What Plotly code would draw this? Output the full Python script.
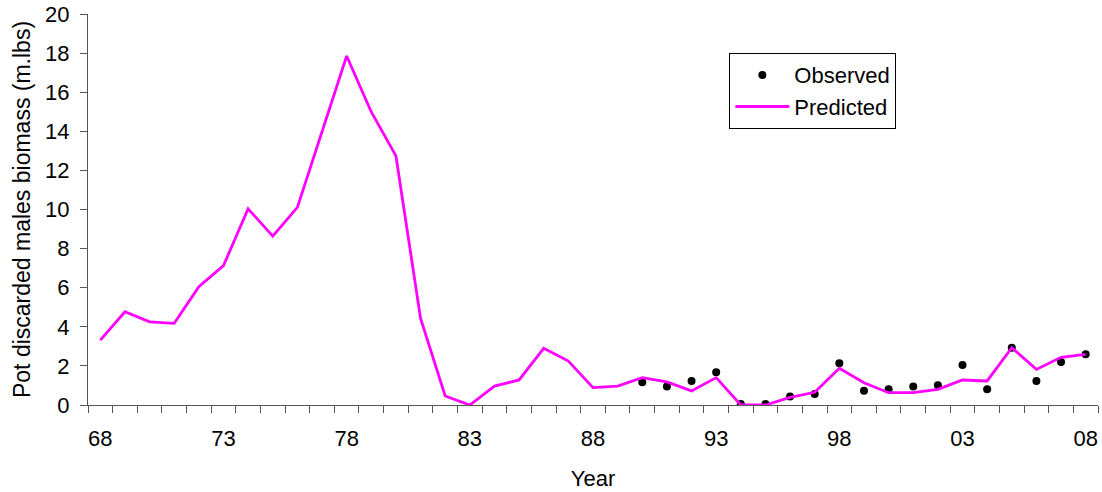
import plotly.graph_objects as go

years = list(range(1968, 2009))
predicted = [3.32, 4.77, 4.25, 4.18, 6.05, 7.13, 10.04, 8.64, 10.11, 13.93,
             17.85, 14.99, 12.74, 4.43, 0.46, 0.0, 0.97, 1.28, 2.90, 2.25,
             0.89, 0.97, 1.40, 1.18, 0.72, 1.40, 0.0, 0.0, 0.39, 0.65,
             1.88, 1.14, 0.63, 0.63, 0.80, 1.28, 1.23, 2.93, 1.82, 2.44, 2.59]
obs_years = list(range(1990, 2009))
observed = [1.16, 0.94, 1.23, 1.67, 0.05, 0.05, 0.43, 0.56, 2.13, 0.73,
            0.80, 0.94, 1.01, 2.05, 0.80, 2.93, 1.23, 2.20, 2.59]
tick_years = [1968, 1973, 1978, 1983, 1988, 1993, 1998, 2003, 2008]
tick_labels = ["68", "73", "78", "83", "88", "93", "98", "03", "08"]
y_ticks = list(range(0, 21, 2))

FONT = "Arial, Liberation Sans, sans-serif"

fig = go.Figure()
fig.add_trace(go.Scatter(x=obs_years, y=observed, mode="markers", name="Observed",
                         marker=dict(color="black", size=8)))
fig.add_trace(go.Scatter(x=years, y=predicted, mode="lines", name="Predicted",
                         line=dict(color="#FF00FF", width=2.8)))

fig.update_layout(
    width=1102, height=492,
    margin=dict(l=88, r=4, t=14, b=87),
    plot_bgcolor="white", paper_bgcolor="white",
    font=dict(family=FONT, size=22, color="black"),
    showlegend=True,
    legend=dict(x=0.635, y=0.90, xanchor="left", yanchor="top",
                bordercolor="black", borderwidth=1, bgcolor="white",
                font=dict(size=22), itemwidth=54),
)
fig.update_xaxes(
    range=[1967.5, 2008.5], tickmode="array", tickvals=tick_years, ticktext=tick_labels,
    ticks="", showline=True, linecolor="#555555", linewidth=1, showgrid=False,
    zeroline=False, ticklabelstandoff=14, automargin=False,
    minor=dict(ticks="outside", tick0=1967.5, dtick=1, ticklen=7,
               tickcolor="#555555", showgrid=False),
    title=dict(text="Year", font=dict(size=22), standoff=20),
)
fig.update_yaxes(
    range=[0, 20], tickmode="array", tickvals=y_ticks, ticks="outside", ticklen=7,
    tickcolor="#555555", showline=True, linecolor="#555555", linewidth=1,
    showgrid=False, zeroline=False, automargin=False, ticklabelstandoff=6,
    title=dict(text="Pot discarded males biomass (m.lbs)", font=dict(size=23), standoff=8),
)

fig.write_html("out.html", config={"displayModeBar": False},
               post_script="document.body.style.margin='0';document.body.style.overflow='hidden';")
